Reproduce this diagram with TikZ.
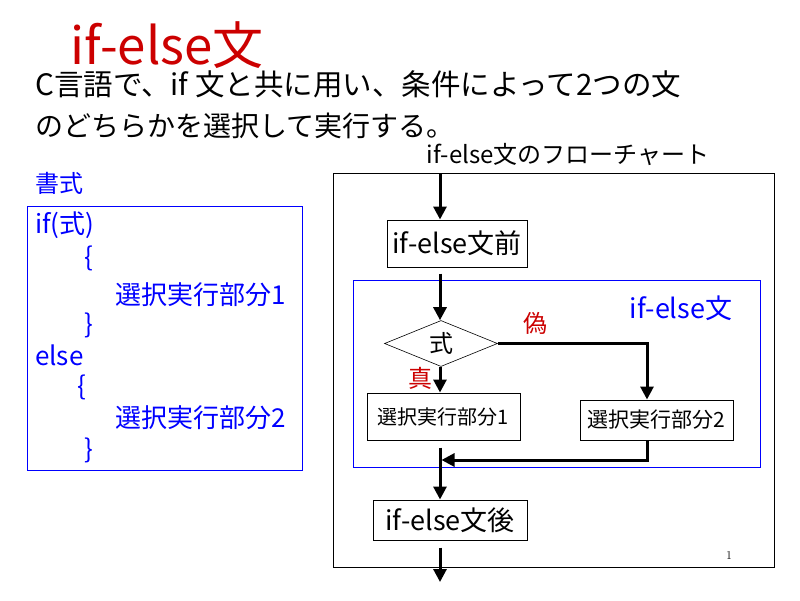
\documentclass[tikz,border=0pt]{standalone}
\usepackage{fontspec}
\newfontfamily\jp{Noto Sans CJK JP}
\usetikzlibrary{shapes.geometric,arrows.meta}
\definecolor{titlered}{RGB}{204,0,0}
\definecolor{fmtblue}{RGB}{0,0,255}
\tikzset{
  flowbox/.style={draw,line width=1pt,inner sep=0pt,font=\jp\fontsize{21}{24}\selectfont},
  flowline/.style={line width=3pt},
  flowarrow/.style={flowline,-{Triangle[length=13pt,width=13pt]}},
  plaintext/.style={anchor=west,inner sep=0pt,font=\jp\fontsize{28}{34}\selectfont},
  fmttext/.style={anchor=west,text=fmtblue,inner sep=0pt,font=\jp\fontsize{26}{30}\selectfont},
  marktext/.style={text=titlered,inner sep=0pt,font=\jp\fontsize{24}{28}\selectfont},
}

\begin{document}
\begin{tikzpicture}[x=1pt,y=-1pt]
  \useasboundingbox[fill=white] (0,0) rectangle (800,600);
  % title and explanation
  \node[plaintext,text=titlered,font=\jp\fontsize{51}{56}\selectfont] (title) at (70,45) {if-else文};
  \node[plaintext,font=\jp\fontsize{29.5}{34}\selectfont] (line1) at (35,84) {C言語で、if 文と共に用い、条件によって2つの文};
  \node[plaintext] (line2) at (35,126) {のどちらかを選択して実行する。};
  \node[inner sep=0pt,font=\jp\fontsize{24}{28}\selectfont] (chartcap) at (568,154) {if-else文のフローチャート};

  % format
  \node[fmttext,font=\jp\fontsize{24}{28}\selectfont] (fmthead) at (35,183) {書式};
  \draw[fmtblue,line width=1pt] (27,206) rectangle (302,470);
  \node[fmttext] (fmtif) at (35,225) {if(式)};
  \node[fmttext] (fmtopen1) at (84,258) {\{};
  \node[fmttext] (fmtpart1) at (115,295) {選択実行部分1};
  \node[fmttext] (fmtclose1) at (84,325) {\}};
  \node[fmttext] (fmtelse) at (35,355) {else};
  \node[fmttext] (fmtopen2) at (77,387) {\{};
  \node[fmttext] (fmtpart2) at (115,418) {選択実行部分2};
  \node[fmttext] (fmtclose2) at (84,450) {\}};

  % flowchart
  \draw[line width=1pt] (333,173) rectangle (774,567);
  \draw[fmtblue,line width=1pt] (353,280) rectangle (760,467);
  \node[text=fmtblue,inner sep=0pt,font=\jp\fontsize{27}{30}\selectfont] (ifelse) at (681,308) {if-else文};

  \coordinate (entry) at (440,173);
  \coordinate (exit) at (440,582);
  \coordinate (falsecol) at (647,0);
  \coordinate (merge) at (441.5,460);

  \node[flowbox,font=\jp\fontsize{27}{30}\selectfont,minimum width=140,minimum height=47] (pre) at (457,243.5) {if-else文前};
  \node[diamond,draw,line width=0.6pt,inner sep=0pt,minimum width=113,minimum height=33,font=\jp\fontsize{24}{26}\selectfont] (cond) at (441,343.5) {式};
  \node[flowbox,font=\jp\fontsize{20}{24}\selectfont,minimum width=153,minimum height=47] (part1) at (443.5,416.5) {選択実行部分1};
  \node[flowbox,minimum width=153,minimum height=40] (part2) at (656.5,420) {選択実行部分2};
  \node[flowbox,font=\jp\fontsize{27}{30}\selectfont,minimum width=154,minimum height=40] (post) at (450,520) {if-else文後};

  \draw[flowarrow] (entry) -- (entry |- pre.north);
  \draw[flowarrow,shorten <=6pt] (entry |- pre.south) -- (entry |- cond.north);
  \draw[flowarrow] (entry |- cond.south) -- (entry |- part1.north);
  \draw[flowarrow] (cond.east) -| (part2.north -| falsecol);
  \draw[flowarrow] (part2.south -| falsecol) |- (merge);
  \draw[flowarrow,shorten <=7pt] (entry |- part1.south) -- (entry |- post.north);
  \draw[flowarrow,shorten <=7pt] (entry |- post.south) -- (exit);

  \node[marktext] (truelabel) at (420,378) {真};
  \node[marktext] (falselabel) at (535,323) {偽};
  \node[inner sep=0pt,font=\fontsize{12}{14}\selectfont] (pageno) at (729,556) {1};
\end{tikzpicture}
\end{document}
